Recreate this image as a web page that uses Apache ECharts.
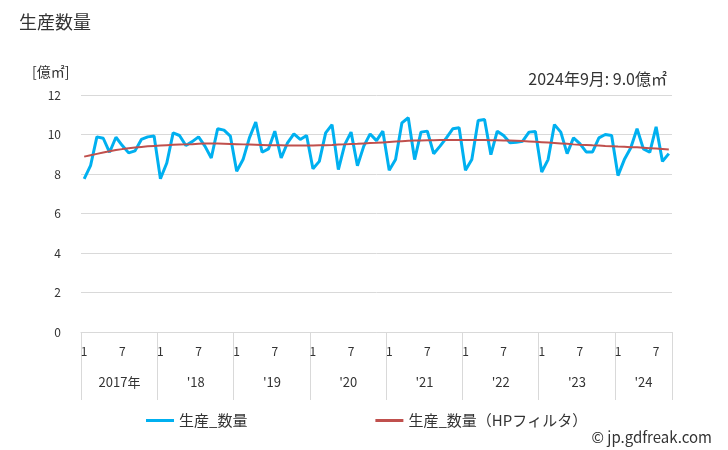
<!DOCTYPE html>
<html>
<head>
<meta charset="utf-8">
<script src="https://cdn.jsdelivr.net/npm/echarts@6/dist/echarts.min.js"></script>
<style>html,body{margin:0;padding:0;background:#fff}#c{width:728px;height:450px}</style>
</head>
<body>
<div id="c"></div>
<script>
var months = [];
for (var y = 2017; y <= 2024; y++) { for (var m = 1; m <= 12; m++) { if (y === 2024 && m > 9) break; months.push(y + '-' + m); } }

var production = [
7.75, 8.42, 9.88, 9.81, 9.10, 9.86, 9.44, 9.07, 9.17, 9.75, 9.88, 9.92,
7.76, 8.56, 10.08, 9.95, 9.44, 9.64, 9.88, 9.41, 8.81, 10.29, 10.22, 9.92,
8.14, 8.73, 9.83, 10.63, 9.10, 9.27, 10.17, 8.81, 9.58, 10.03, 9.75, 9.95,
8.27, 8.64, 10.08, 10.50, 8.22, 9.49, 10.12, 8.42, 9.41, 10.03, 9.69, 10.17,
8.19, 8.73, 10.59, 10.85, 8.73, 10.12, 10.17, 9.03, 9.41, 9.83, 10.29, 10.34,
8.19, 8.73, 10.71, 10.76, 8.98, 10.17, 9.95, 9.58, 9.61, 9.66, 10.12, 10.15,
8.10, 8.73, 10.50, 10.12, 9.03, 9.83, 9.54, 9.12, 9.12, 9.83, 10.00, 9.95,
7.92, 8.73, 9.32, 10.29, 9.27, 9.10, 10.39, 8.64, 9.03
];
var hpTrend = [
8.88, 8.95, 9.02, 9.09, 9.15, 9.21, 9.26, 9.30, 9.34, 9.37, 9.40, 9.42,
9.44, 9.46, 9.48, 9.49, 9.50, 9.51, 9.53, 9.54, 9.54, 9.54, 9.53, 9.52,
9.51, 9.50, 9.49, 9.48, 9.47, 9.46, 9.45, 9.45, 9.44, 9.44, 9.44, 9.44,
9.44, 9.45, 9.46, 9.47, 9.49, 9.50, 9.52, 9.53, 9.55, 9.57, 9.58, 9.60,
9.62, 9.64, 9.66, 9.68, 9.69, 9.70, 9.71, 9.71, 9.72, 9.72, 9.72, 9.72,
9.72, 9.72, 9.72, 9.72, 9.71, 9.71, 9.70, 9.69, 9.68, 9.67, 9.65, 9.63,
9.61, 9.59, 9.57, 9.55, 9.53, 9.50, 9.48, 9.47, 9.45, 9.44, 9.42, 9.41,
9.39, 9.38, 9.36, 9.35, 9.33, 9.31, 9.29, 9.27, 9.24
];
var yearLabels = ['2017年', "'18", "'19", "'20", "'21", "'22", "'23", "'24"];
var monthLabels = ['1', '7'];

var font = '"Noto Sans CJK JP", "Noto Sans", sans-serif';
var chart = echarts.init(document.getElementById('c'));
chart.setOption({
  animation: false,
  textStyle: { fontFamily: font },
  title: [
    { text: '生産数量', left: 14, top: 8, textStyle: { fontSize: 18, fontWeight: 'normal', color: '#333', fontFamily: font } },
    { text: '[億㎡]', left: 27, top: 60, textStyle: { fontSize: 14, fontWeight: 'normal', color: '#333', fontFamily: font } },
    { text: '2024年9月: 9.0億㎡', right: 56, top: 66, textStyle: { fontSize: 16, fontWeight: 'normal', color: '#333', fontFamily: font } },
    { text: '© jp.gdfreak.com', right: 11, top: 425, textStyle: { fontSize: 15, fontWeight: 'normal', color: '#333', fontFamily: font } }
  ],
  legend: {
    left: 141, top: 408, itemWidth: 28, itemHeight: 3, itemGap: 128, icon: 'rect',
    textStyle: { fontSize: 15, color: '#333', fontFamily: font },
    data: ['生産_数量', '生産_数量（HPフィルタ）']
  },
  grid: { left: 81, right: 56, top: 95, bottom: 118 },
  xAxis: [
    {
      type: 'category', data: months, position: 'bottom',
      axisLine: { show: true, lineStyle: { color: '#d9d9d9' } },
      axisTick: { show: false },
      axisLabel: {
        interval: 0, margin: 13, fontSize: 12, color: '#333',
        formatter: function (v) { var m = v.split('-')[1]; return (m === monthLabels[0] || m === monthLabels[1]) ? m : ''; }
      }
    },
    {
      type: 'category', data: months, position: 'bottom', offset: 0,
      axisLine: { show: false },
      axisTick: { show: true, length: 68, interval: function (i) { return i % 12 === 0; }, lineStyle: { color: '#d9d9d9' } },
      axisLabel: {
        margin: 44, fontSize: 13, color: '#333',
        interval: function (i) { return (i % 12 === 5 && i < 84) || i === 88; },
        formatter: function (v, i) {
          var yi = Math.floor(i / 12);
          return i === 88 ? '{b|' + yearLabels[yi] + '}' : '{a|' + yearLabels[yi] + '}';
        },
        rich: { a: { padding: [0, 0, 0, 7], fontSize: 13, color: '#333', fontFamily: font }, b: { fontSize: 13, color: '#333', fontFamily: font } }
      }
    }
  ],
  yAxis: {
    type: 'value', min: 0, max: 12, interval: 2,
    axisLine: { show: false }, axisTick: { show: false },
    axisLabel: { fontSize: 12, color: '#333', margin: 20 },
    splitLine: { lineStyle: { color: '#d9d9d9' } }
  },
  series: [
    { name: '生産_数量', type: 'line', data: production, symbol: 'none', lineStyle: { width: 3, color: '#00b0f0' }, itemStyle: { color: '#00b0f0' }, z: 2 },
    { name: '生産_数量（HPフィルタ）', type: 'line', data: hpTrend, symbol: 'none', lineStyle: { width: 2, color: '#c0504d' }, itemStyle: { color: '#c0504d' }, z: 3 }
  ]
});
</script>
</body>
</html>
